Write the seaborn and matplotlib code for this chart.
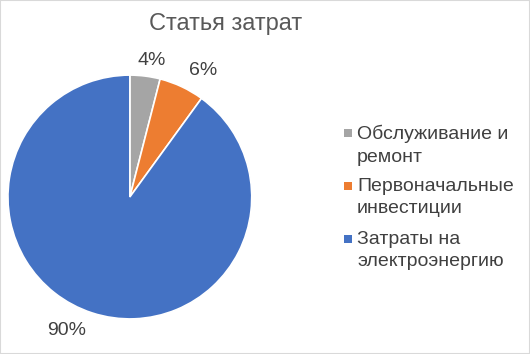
import matplotlib
matplotlib.use("Agg")
import matplotlib.pyplot as plt
from matplotlib.patches import Rectangle
import seaborn as sns

categories = ["Обслуживание и\nремонт", "Первоначальные\nинвестиции", "Затраты на\nэлектроэнергию"]
values = [4, 6, 90]
colors = ["#A5A5A5", "#ED7D31", "#4472C4"]
title = "Статья затрат"

# label nudges (layout only), in pie-radius units
label_nudges = [(0.03, -0.07), (0.09, -0.05), (-0.15, 0.05)]

sns.set_theme(style="white")
plt.rcParams['font.family'] = ['Liberation Sans', 'DejaVu Sans']

fig = plt.figure(figsize=(5.3, 3.54), dpi=100)
ax = fig.add_axes([0.015, 0.099, 0.46, 0.689])
wedges, _, autotexts = ax.pie(values, colors=colors, startangle=90, counterclock=False,
                              autopct=lambda p: f"{p:.0f}%", pctdistance=1.2,
                              wedgeprops=dict(edgecolor="white", linewidth=1.2),
                              textprops=dict(color="#404040", fontsize=14))
ax.set_aspect("equal")
ax.set_xlim(-1, 1)
ax.set_ylim(-1, 1)
for t, (dx, dy) in zip(autotexts, label_nudges):
    x, y = t.get_position()
    t.set_position((x + dx, y + dy))
    t.set_clip_on(False)

fig.text(226 / 530, 1 - 24 / 354, title, ha="center", va="center", fontsize=17, color="#595959")

# legend drawn manually so markers align with first text line
W, H = 530, 354
for i, (lab, c) in enumerate(zip(categories, colors)):
    yc = 133 + 53 * i
    fig.patches.append(Rectangle((344 / W, 1 - (yc + 4) / H), 8 / W, 8 / H,
                                 transform=fig.transFigure, facecolor=c, edgecolor="none"))
    fig.text(357 / W, 1 - (yc - 8) / H, lab, ha="left", va="top", fontsize=14,
             color="#404040", linespacing=1.4)

fig.patches.append(Rectangle((0, 0), 1, 1, transform=fig.transFigure, fill=False,
                             edgecolor="#D9D9D9", linewidth=1.5))
fig.savefig("out.png", dpi=100)
